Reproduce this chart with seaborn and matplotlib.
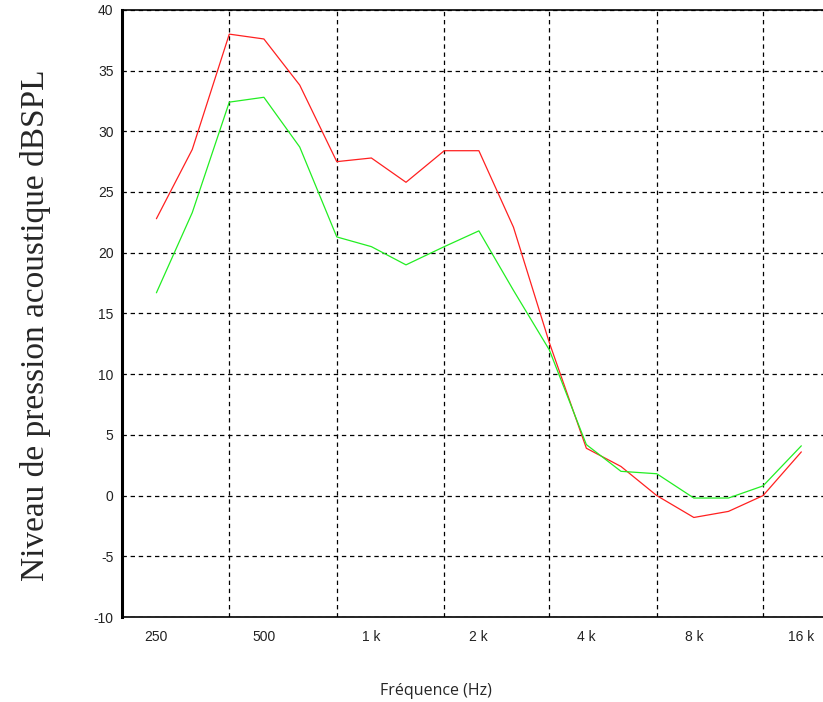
import pandas as pd
import matplotlib
matplotlib.use("Agg")
import matplotlib.pyplot as plt
import matplotlib.ticker as mticker
import seaborn as sns

# third-octave bands (Hz)
freqs = [250, 315, 400, 500, 630, 800, 1000, 1250, 1600, 2000, 2500,
         3150, 4000, 5000, 6300, 8000, 10000, 12500, 16000]
red_levels = [22.8, 28.5, 38.0, 37.6, 33.8, 27.5, 27.8, 25.8, 28.4, 28.4, 22.1,
              12.6, 3.9, 2.4, 0.0, -1.8, -1.3, 0.0, 3.6]
green_levels = [16.7, 23.3, 32.4, 32.8, 28.7, 21.3, 20.5, 19.0, 20.5, 21.8, 16.9,
                12.0, 4.2, 2.0, 1.8, -0.2, -0.2, 0.8, 4.1]

octave_ticks = [250, 500, 1000, 2000, 4000, 8000, 16000]
octave_labels = ["250", "500", "1 k", "2 k", "4 k", "8 k", "16 k"]
grid_freqs = [400, 800, 1600, 3150, 6300, 12500]
y_ticks = list(range(-10, 45, 5))

df = pd.concat([
    pd.DataFrame({"freq": freqs, "level": red_levels, "serie": "rouge"}),
    pd.DataFrame({"freq": freqs, "level": green_levels, "serie": "vert"}),
])

sns.set_style("white")
plt.rcParams["axes.unicode_minus"] = False
fig = plt.figure(figsize=(8.23, 7.02), dpi=100)
ax = fig.add_axes([0.148, 0.121, 0.852, 0.865])

sns.lineplot(data=df, x="freq", y="level", hue="serie",
             palette={"rouge": "#ff2020", "vert": "#22ee22"},
             linewidth=0.9, legend=False, ax=ax)

ax.set_xscale("log")
ax.set_xlim(200, 18400)
ax.set_ylim(-10, 40)

ax.xaxis.set_major_locator(mticker.FixedLocator(octave_ticks))
ax.xaxis.set_major_formatter(mticker.FixedFormatter(octave_labels))
ax.xaxis.set_minor_locator(mticker.FixedLocator(grid_freqs))
ax.xaxis.set_minor_formatter(mticker.NullFormatter())
ax.set_yticks(y_ticks)

ax.grid(False)
ax.grid(True, which="minor", axis="x", color="black", linestyle=(0, (3.5, 3)), linewidth=0.9)
ax.grid(True, which="major", axis="y", color="black", linestyle=(0, (3.5, 3)), linewidth=0.9)

ax.tick_params(axis="both", which="major", direction="out", length=4, width=1,
               labelsize=10, colors="black", pad=2)
ax.tick_params(axis="x", which="major", pad=5)
ax.tick_params(axis="x", which="minor", length=0)
for lab in ax.get_xticklabels() + ax.get_yticklabels():
    lab.set_family(["Liberation Sans", "DejaVu Sans"])
    lab.set_color("#222222")

for side in ["left", "bottom", "top"]:
    ax.spines[side].set_visible(True)
    ax.spines[side].set_color("black")
ax.spines["left"].set_linewidth(2.2)
ax.spines["bottom"].set_linewidth(1.2)
ax.spines["top"].set_linewidth(1.2)
ax.spines["right"].set_visible(False)

ax.set_ylabel("Niveau de pression acoustique dBSPL", fontsize=24,
              family=["Liberation Serif", "DejaVu Serif"])
ax.yaxis.set_label_coords(-0.101, 0.48)
ax.set_xlabel("Fréquence (Hz)", fontsize=11.5, family=["Open Sans", "DejaVu Sans"])
ax.xaxis.set_label_coords(0.448, -0.108)

fig.savefig("out.png", dpi=100)
